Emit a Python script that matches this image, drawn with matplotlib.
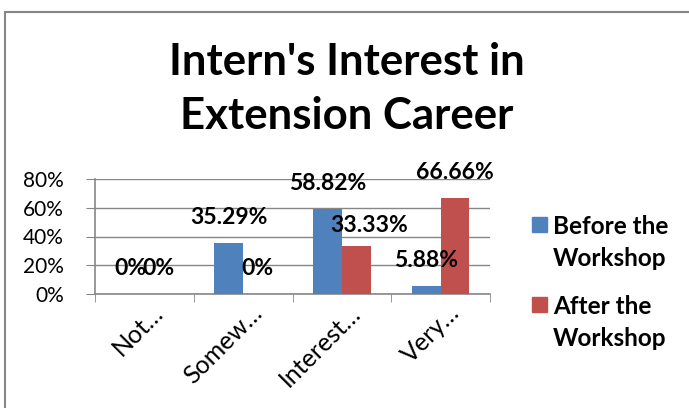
import matplotlib
matplotlib.use('Agg')
import matplotlib.pyplot as plt
from matplotlib.patches import Rectangle
from matplotlib.transforms import ScaledTranslation

# dati del grafico
categorie = ['Not…', 'Somew…', 'Interest…', 'Very…']
prima = [0, 35.29, 58.82, 5.88]
dopo = [0, 0, 33.33, 66.66]
etichette_prima = ['0%', '35.29%', '58.82%', '5.88%']
etichette_dopo = ['0%', '0%', '33.33%', '66.66%']
serie = ['Before the\nWorkshop', 'After the\nWorkshop']
yticks = [0, 20, 40, 60, 80]
titolo = "Intern's Interest in\nExtension Career"

BLU = '#4F81BD'
ROSSO = '#C0504D'
GRIGIO = '#868686'
W, H = 689, 408

plt.rcParams['font.family'] = ['Lato', 'DejaVu Sans']
fig = plt.figure(figsize=(W / 100, H / 100), dpi=100)
ax = fig.add_axes([95 / W, 1 - 294 / H, (490 - 95) / W, (294 - 179) / H])

x = list(range(len(categorie)))
bw = 0.29
b1 = ax.bar([i - bw / 2 for i in x], prima, width=bw, color=BLU, zorder=3)
b2 = ax.bar([i + bw / 2 for i in x], dopo, width=bw, color=ROSSO, zorder=3)

ax.set_xlim(-0.5, 3.5)
ax.set_ylim(0, 80)
ax.set_yticks(yticks)
ax.set_yticklabels([f'{v}%' for v in yticks], fontsize=15)
ax.grid(axis='y', color=GRIGIO, lw=1, zorder=0)
for s in ['top', 'right']:
    ax.spines[s].set_visible(False)
for s in ['left', 'bottom']:
    ax.spines[s].set_color(GRIGIO)
    ax.spines[s].set_linewidth(1.2)
ax.tick_params(axis='y', length=6.5, color=GRIGIO, pad=16)

ax.set_xticks(x)
ax.set_xticks([i - 0.5 for i in range(len(categorie) + 1)], minor=True)
ax.tick_params(axis='x', which='major', length=0, pad=11)
ax.tick_params(axis='x', which='minor', length=6, color=GRIGIO)
ax.set_xticklabels(categorie, rotation=45, ha='right', va='center',
                   rotation_mode='anchor', fontsize=18)
for lab in ax.get_xticklabels():
    lab.set_transform(lab.get_transform() + ScaledTranslation(0.15, 0, fig.dpi_scale_trans))

# etichette dei valori
for bars, labs in ((b1, etichette_prima), (b2, etichette_dopo)):
    for r, t in zip(bars, labs):
        dx, dy = 0, 25.5
        if t == '33.33%':
            dx, dy = 13, 21
        ax.annotate(t, (r.get_x() + r.get_width() / 2, r.get_height()),
                    xytext=(dx, dy), textcoords='offset pixels',
                    ha='center', va='center', fontsize=16.5, fontweight='bold',
                    zorder=5)

fig.text(0.5 * (5 + W) / W, 1 - 42 / H, titolo, ha='center', va='top',
         fontsize=31.5, fontweight='bold', linespacing=1.42)

# legenda fatta a mano
for k, (nome, col) in enumerate(zip(serie, [BLU, ROSSO])):
    ytop = 217 + k * 80
    fig.patches.append(Rectangle((532 / W, 1 - (ytop + 15) / H), 15 / W, 15 / H,
                                 transform=fig.transFigure, color=col))
    fig.text(553 / W, 1 - (ytop - 2) / H, nome, ha='left', va='top',
             fontsize=17.5, fontweight='bold', linespacing=1.45)

# cornice
fig.patches.append(Rectangle((5 / W, -0.1), 2, 1 - 12 / H + 0.1, transform=fig.transFigure,
                             fill=False, edgecolor=GRIGIO, lw=1.5, clip_on=False))

plt.savefig('out.png', dpi=100)
